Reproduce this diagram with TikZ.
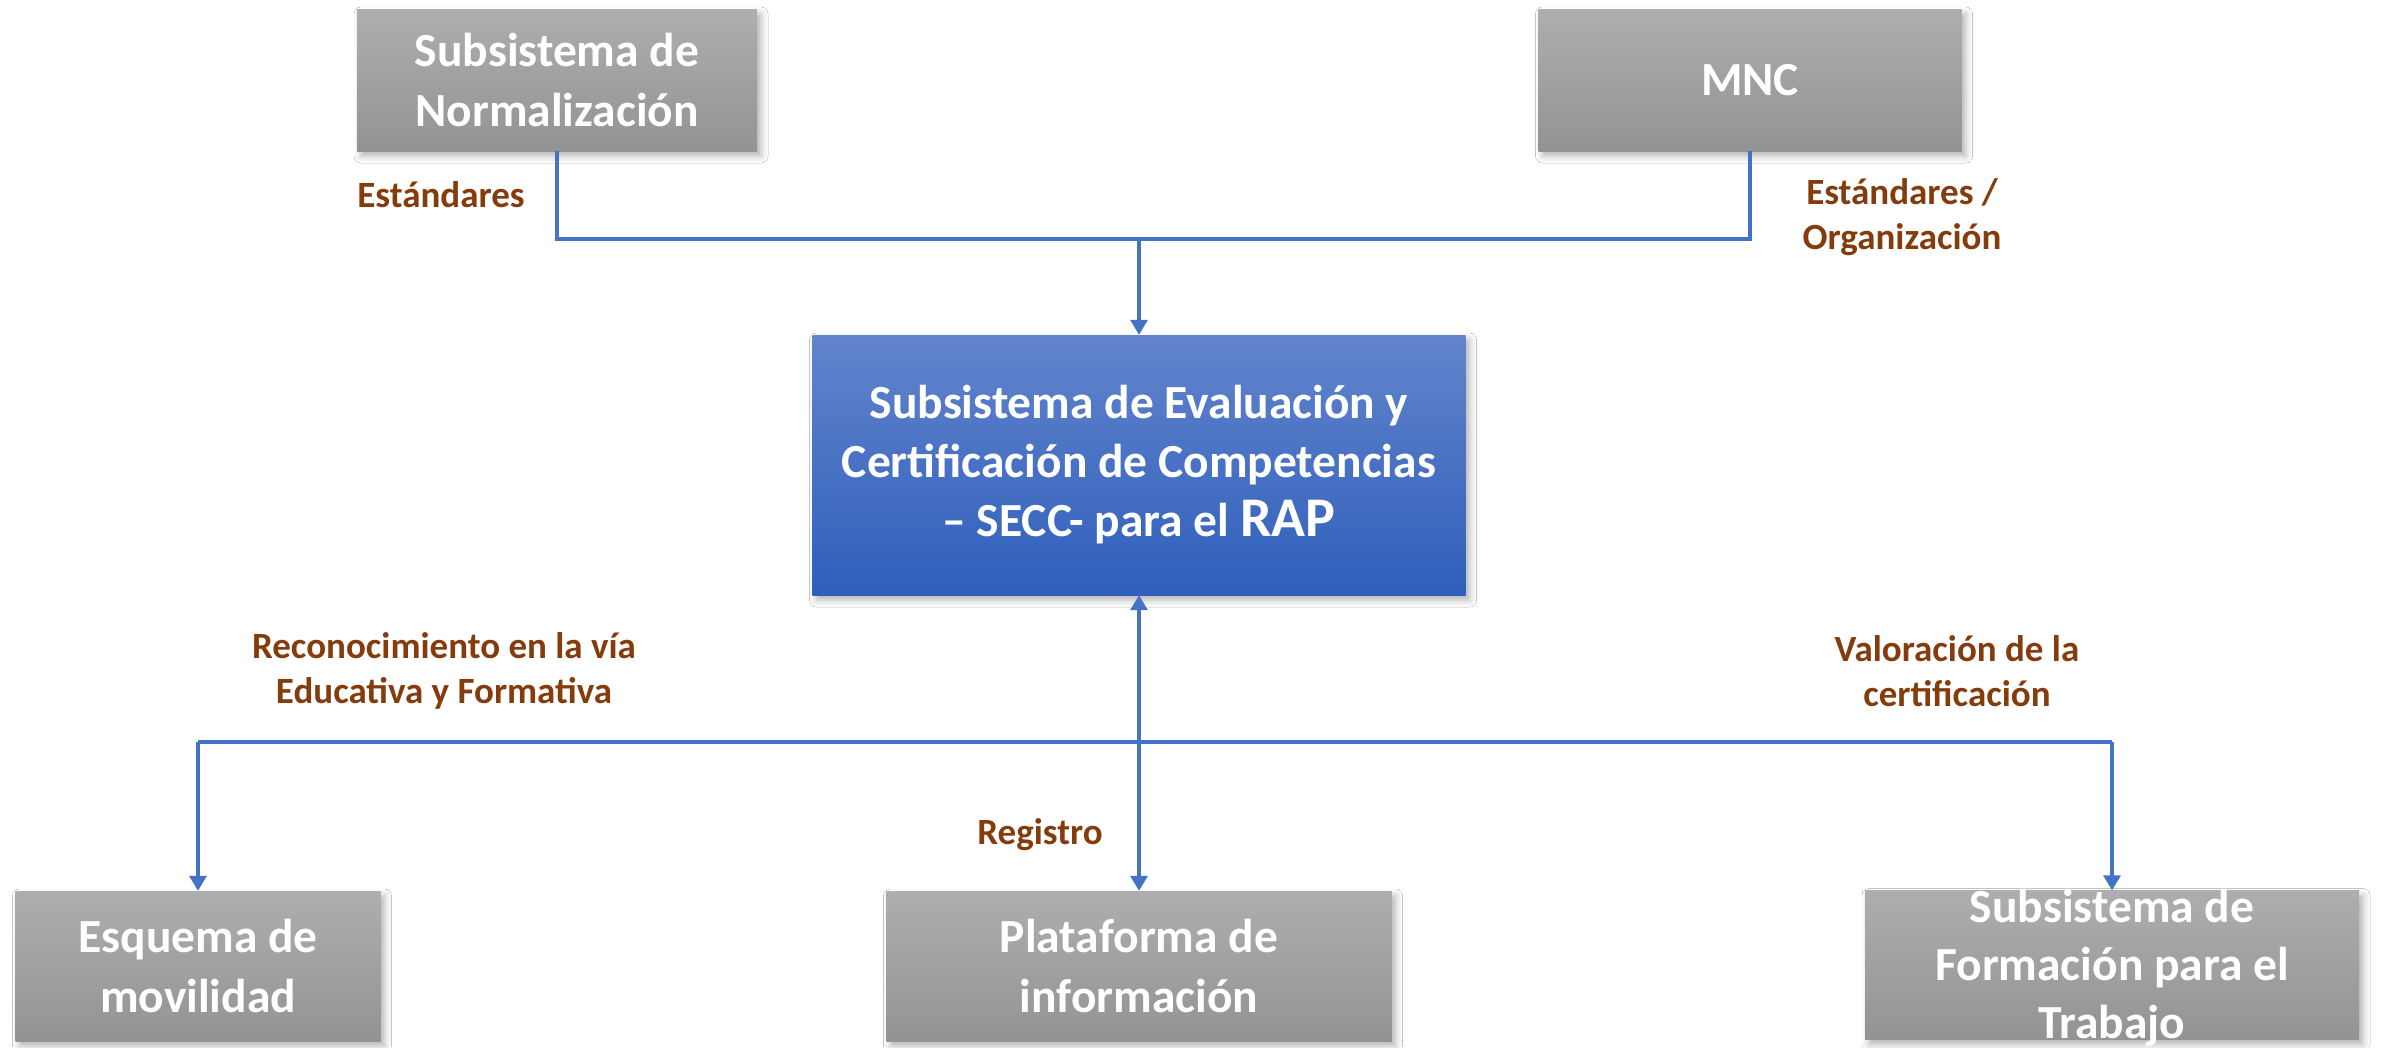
\documentclass[tikz,border=0pt]{standalone}
\usepackage{fontspec}
\setmainfont{Carlito}
\usetikzlibrary{arrows.meta,shadows.blur}
\definecolor{conncol}{HTML}{4472C4}
\definecolor{labcol}{HTML}{843C0C}
\definecolor{graytop}{HTML}{AEAEAE}
\definecolor{graybot}{HTML}{939393}
\definecolor{bluetop}{HTML}{6284CC}
\definecolor{bluebot}{HTML}{2F5FBB}
\begin{document}
\begin{tikzpicture}[x=1pt,y=-1pt,
  boxbase/.style={rectangle, draw=none, text=white, align=center, inner sep=0pt,
    font=\bfseries\fontsize{47.5}{60}\selectfont,
    blur shadow={shadow xshift=4pt, shadow yshift=-5pt, shadow blur radius=7pt, shadow opacity=30}},
  graybox/.style={boxbase, top color=graytop, bottom color=graybot},
  bluebox/.style={boxbase, top color=bluetop, bottom color=bluebot, font=\bfseries\fontsize{47.5}{59}\selectfont},
  lab/.style={text=labcol, align=center, font=\bfseries\fontsize{37}{45}\selectfont, inner sep=0pt},
  conn/.style={draw=conncol, line width=3.2pt},
  arr/.style={conn, -{Triangle[width=17pt,length=15pt]}},
  darr/.style={conn, {Triangle[width=17pt,length=15pt]}-{Triangle[width=17pt,length=15pt]}}
]
\useasboundingbox (0,0) rectangle (2385,1047);
\fill[white] (0,0) rectangle (2385,1047);

\node[graybox, minimum width=400, minimum height=142] (norm) at (557,80) {Subsistema de\\Normalización};
\node[graybox, minimum width=423, minimum height=142] (mnc) at (1750,80) {MNC};
\node[bluebox, minimum width=653, minimum height=260] (secc) at (1139,465)
  {Subsistema de Evaluación y\\Certificación de Competencias\\– SECC- para el {\fontsize{56}{59}\selectfont RAP}};
\node[graybox, minimum width=365, minimum height=150] (esq) at (198,966) {Esquema de\\movilidad};
\node[graybox, minimum width=505, minimum height=150] (plat) at (1139,966) {Plataforma de\\información};
\node[graybox, minimum width=494, minimum height=149,
  label={[text=white, align=center, font=\bfseries\fontsize{47.5}{58}\selectfont, yshift=-3pt]center:Subsistema de\\Formación para el\\Trabajo}] (form) at (2112,965) {};

\coordinate (jtop) at (1139,239);
\coordinate (jbot) at (1139,742);

\draw[conn] (norm.south) |- (mnc.south |- jtop) -- (mnc.south);
\draw[arr] (jtop) -- (secc.north);
\draw[conn] (esq.north |- jbot) -- (form.north |- jbot);
\draw[arr] (esq.north |- jbot) -- (esq.north);
\draw[arr] (form.north |- jbot) -- (form.north);
\draw[darr] (secc.south) -- (plat.north);

\node[lab] (l1) at (441,195) {Estándares};
\node[lab] (l2) at (1902,217) {Estándares /\\Organización};
\node[lab] (l3) at (444,671) {Reconocimiento en la vía\\Educativa y Formativa};
\node[lab] (l4) at (1957,671) {Valoración de la\\certificación};
\node[lab] (l5) at (1040,835) {Registro};
\end{tikzpicture}
\end{document}
